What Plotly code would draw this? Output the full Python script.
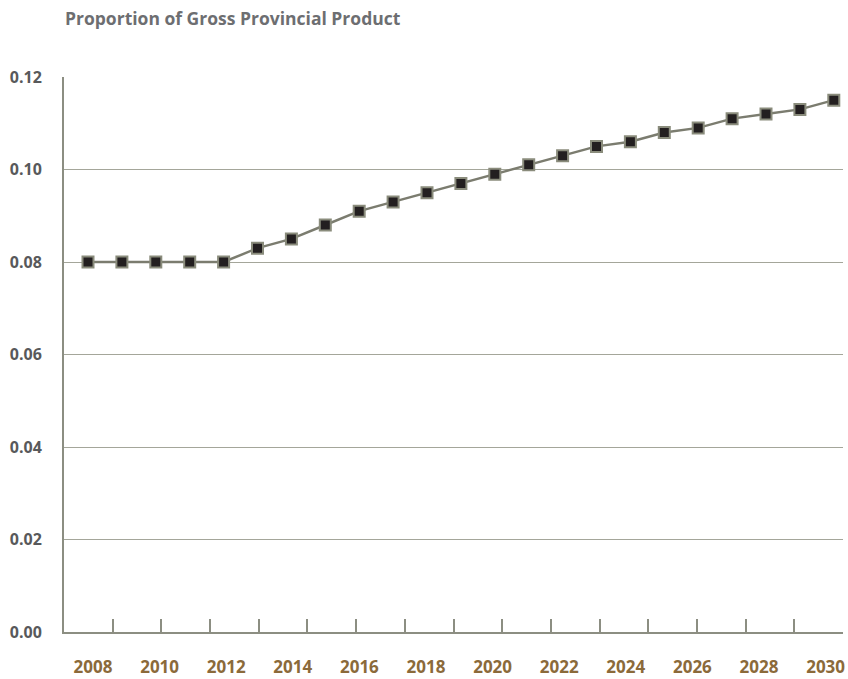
import plotly.graph_objects as go

years = list(range(2008, 2031))
values = [0.080, 0.080, 0.080, 0.080, 0.080, 0.083, 0.085, 0.088, 0.091, 0.093,
          0.095, 0.097, 0.099, 0.101, 0.103, 0.105, 0.106, 0.108, 0.109, 0.111,
          0.112, 0.113, 0.115]
x_labels = ["2008", "2010", "2012", "2014", "2016", "2018", "2020", "2022",
            "2024", "2026", "2028", "2030"]
y_ticks = [0.0, 0.02, 0.04, 0.06, 0.08, 0.10, 0.12]
y_labels = ["0.00", "0.02", "0.04", "0.06", "0.08", "0.10", "0.12"]
title = "Proportion of Gross Provincial Product"

W, H = 848, 679
L, R, T, B = 64, 5, 77, 47
step = 33.9          # pixels per year
first_px = 88
x0 = years[0] - (first_px - L) / step
x1 = years[0] + (W - R - first_px) / step
# label positions (evenly spaced, offset from data points as in the reference)
lab_px = [93 + i * 66.6 for i in range(len(x_labels))]
lab_vals = [years[0] + (p - first_px) / step for p in lab_px]

axis_col = "#8c8e82"
fig = go.Figure()
fig.add_trace(go.Scatter(
    x=years, y=values, mode="lines+markers",
    line=dict(color="#7b7c6f", width=2.5),
    marker=dict(symbol="square", size=11, color="#231f20",
                line=dict(color="#8a8c7c", width=2)),
    showlegend=False, hoverinfo="x+y"))
# invisible trace on overlay axis for tick marks
fig.add_trace(go.Scatter(x=[0, 16], y=[None, None], xaxis="x2",
                         showlegend=False, hoverinfo="skip"))

fig.update_layout(
    width=W, height=H,
    margin=dict(l=L, r=R, t=T, b=B, autoexpand=False),
    paper_bgcolor="white", plot_bgcolor="white",
    font=dict(family="Open Sans", color="#58595b"),
    xaxis=dict(range=[x0, x1], tickmode="array", tickvals=lab_vals,
               ticktext=x_labels, showgrid=False, zeroline=False,
               showline=True, linecolor=axis_col, linewidth=2,
               ticks="", ticklabelstandoff=19, automargin=False,
               tickfont=dict(size=17, color="#8b6a3a", family="Open Sans",
                             weight="bold")),
    xaxis2=dict(range=[0, 16], overlaying="x", side="bottom", dtick=1,
                tick0=0, showticklabels=False, ticks="inside", ticklen=13,
                tickwidth=2, tickcolor=axis_col, showgrid=False,
                zeroline=False, showline=False, automargin=False),
    yaxis=dict(range=[0, 0.12], tickmode="array", tickvals=y_ticks,
               ticktext=y_labels, showgrid=True, gridcolor="#a4a69a",
               gridwidth=1, zeroline=False, showline=True,
               linecolor=axis_col, linewidth=2, ticks="",
               ticklabelstandoff=17, automargin=False,
               tickfont=dict(size=16, color="#58595b", family="Open Sans",
                             weight="bold")),
    annotations=[dict(text=title, x=(63 - L) / (W - L - R),
                      y=(H - B - 18) / (H - T - B),
                      xref="paper", yref="paper",
                      showarrow=False, xanchor="left", yanchor="middle",
                      font=dict(size=17.5, color="#6d6e71", family="Open Sans",
                                weight="bold"))],
)
fig.write_html("out.html")
